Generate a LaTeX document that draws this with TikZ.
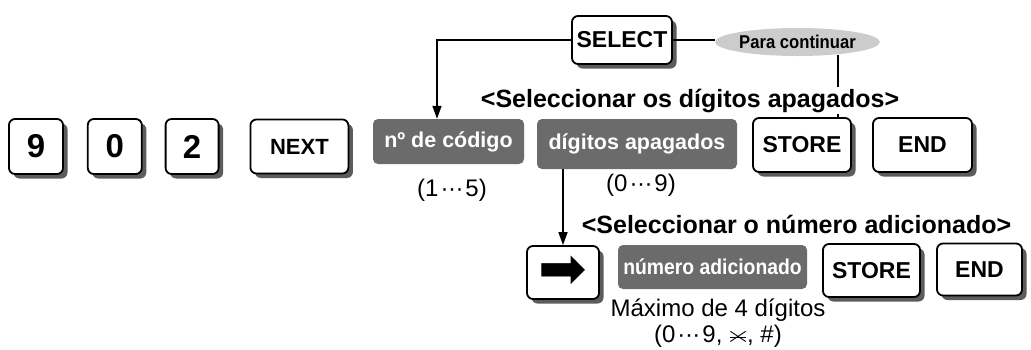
\documentclass[tikz,border=0pt]{standalone}
\usepackage{graphicx}
\usepackage{fontspec}
\setmainfont{Liberation Sans}
\newfontfamily\narrowfont[FakeStretch=0.9]{Liberation Sans}
\newfontfamily\symfont{DejaVu Sans}
\usetikzlibrary{shapes.geometric,arrows.meta,positioning,shadows,calc}
\definecolor{boxgray}{gray}{0.42}
\definecolor{ovalgray}{gray}{0.80}
\definecolor{shadegray}{gray}{0.36}
\newcommand\mdots{\kern2pt·\kern-.5pt·\kern-.5pt·\kern2pt}
\newcommand\starsym{\makebox[18pt]{\makebox[0pt]{\scalebox{1.35}[0.9]{$\times$}}%
  \makebox[0pt]{\rule[4.9pt]{16pt}{0.9pt}}}}

\begin{document}
\begin{tikzpicture}[x=1pt, y=-1pt,
      key/.style   = {rectangle, rounded corners=6pt, draw=black, line width=1.8pt,
                      fill=white, minimum height=54pt, inner sep=0pt,
                      font=\fontsize{23}{23}\selectfont\bfseries,
                      drop shadow={shadow xshift=4.5pt, shadow yshift=-4.5pt,
                                   fill=shadegray, opacity=1}},
      digit/.style = {key, minimum width=54pt, minimum height=55pt,
                      font=\fontsize{33}{33}\selectfont\bfseries},
      field/.style = {rectangle, rounded corners=5pt, fill=boxgray, text=white,
                      inner sep=0pt, font=\fontsize{21.5}{21.5}\selectfont\bfseries},
      oval/.style  = {ellipse, fill=ovalgray, inner sep=0pt,
                      minimum width=145pt, minimum height=28pt,
                      font=\narrowfont\fontsize{18.5}{18.5}\selectfont\bfseries},
      head/.style  = {anchor=base, font=\fontsize{25}{25}\selectfont\bfseries},
      note/.style  = {font=\fontsize{24}{26}\selectfont, align=center},
      line/.style  = {line width=1.6pt},
      arrow/.style = {line, -{Triangle[length=13pt,width=9pt]}}
    ]
    \useasboundingbox (0,0) rectangle (1031,349);

    % upper row
    \node[digit] (k9) at (36,146.5) {9};
    \node[digit, right=23pt of k9] (k0) {0};
    \node[digit, right=22pt of k0, minimum width=53pt] (k2) {2};
    \node[key, right=30pt of k2, minimum width=98pt,
          font=\fontsize{22}{22}\selectfont\bfseries] (next) {NEXT};
    \node[field, minimum width=151pt, minimum height=45pt] (code) at (448.5,141.5) {nº de código};
    \node[field, minimum width=200pt, minimum height=50pt] (digits) at (637,144) {dígitos apagados};
    \node[key, minimum width=98pt] (store1) at (802,145) {STORE};
    \node[key, minimum width=99pt] (end1) at (922.5,145) {END};

    \node[key, minimum width=100pt, minimum height=48pt] (select) at (622,40) {SELECT};
    \node[oval] (cont) at (797.5,42) {Para continuar};
    \coordinate (tap) at (838,55);

    \draw[arrow] (select.west) -| ([xshift=-11.5pt]code.north);
    \draw[line] (select.east) -- (select.east -| cont.west);
    \draw[line] (tap) -- (tap |- store1.north);

    \node[head, fill=white, inner sep=2pt] (head1) at (690,107) {<Seleccionar os dígitos apagados>};
    \node[note] (range1) at (452,190) {(1\mdots5)};
    \node[note] (range2) at (641,185) {(0\mdots9)};

    % lower row
    \node[key, minimum width=72pt, minimum height=53pt,
          font=\symfont\fontsize{58}{58}\selectfont] (arrowkey) at (563,272.5) {➡};
    \node[field, minimum width=189pt, minimum height=44pt,
          font=\narrowfont\fontsize{21.5}{21.5}\selectfont\bfseries] (number) at (712.5,267) {número adicionado};
    \node[key, minimum width=97pt, minimum height=53pt] (store2) at (871.5,270.5) {STORE};
    \node[key, minimum width=85pt, minimum height=52pt] (end2) at (979.5,269.5) {END};

    \draw[arrow] (digits.south -| arrowkey.north) -- (arrowkey.north);
    \node[head] (head2) at (796.5,233) {<Seleccionar o número adicionado>};
    \node[note] (limit) at (718,323) {Máximo de 4 dígitos\\(0\mdots9, \starsym, \#)};
  \end{tikzpicture}
\end{document}
